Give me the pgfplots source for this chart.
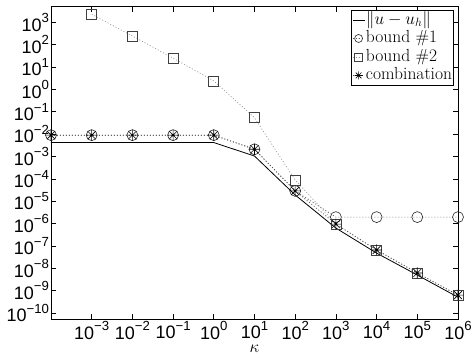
\documentclass[border=0pt]{standalone}
\usepackage{fontspec}
\usepackage{pgfplots}
\pgfplotsset{compat=1.18}
\newfontfamily\arial{Liberation Sans}
\newcommand{\logtick}{\pgfmathtruncatemacro{\e}{round(\tick)}\pgfmathtruncatemacro{\ea}{abs(\e)}10\raisebox{0.47em}{\fontsize{13.2}{13}\selectfont\ifnum\e<0 −\fi\ea}}
\pgfdeclareplotmark{ast8}{%
  \pgfpathmoveto{\pgfqpoint{-\pgfplotmarksize}{0pt}}\pgfpathlineto{\pgfqpoint{\pgfplotmarksize}{0pt}}%
  \pgfpathmoveto{\pgfqpoint{0pt}{-\pgfplotmarksize}}\pgfpathlineto{\pgfqpoint{0pt}{\pgfplotmarksize}}%
  \pgfpathmoveto{\pgfqpoint{-0.707\pgfplotmarksize}{-0.707\pgfplotmarksize}}\pgfpathlineto{\pgfqpoint{0.707\pgfplotmarksize}{0.707\pgfplotmarksize}}%
  \pgfpathmoveto{\pgfqpoint{-0.707\pgfplotmarksize}{0.707\pgfplotmarksize}}\pgfpathlineto{\pgfqpoint{0.707\pgfplotmarksize}{-0.707\pgfplotmarksize}}%
  \pgfusepathqstroke}
\definecolor{bonegray}{gray}{0.35}
\definecolor{btwogray}{gray}{0.6}
\begin{document}
\begin{tikzpicture}
\begin{axis}[
  scale only axis,
  width=407pt, height=312.6pt,
  xmode=log, ymode=log,
  log basis x=10, log basis y=10,
  xmin=1e-4, xmax=1e6,
  ymin=5.25e-11, ymax=5.0e3,
  xtick={1e-3,1e-2,1e-1,1e0,1e1,1e2,1e3,1e4,1e5,1e6},
  ytick={1e-10,1e-9,1e-8,1e-7,1e-6,1e-5,1e-4,1e-3,1e-2,1e-1,1e0,1e1,1e2,1e3},
  xticklabel={\logtick}, yticklabel={\logtick},
  xminorticks=false, yminorticks=false,
  tick align=inside, major tick length=5pt,
  tick style={black, line width=0.6pt},
  ticklabel style={font=\arial\fontsize{18}{19}\selectfont},
  xticklabel style={yshift=1.5pt},
  yticklabel style={xshift=1.5pt},
  axis line style={line width=0.9pt},
  xlabel={$\kappa$},
  xlabel style={font=\fontsize{16}{18}\selectfont, yshift=-2pt, inner sep=1pt, text height=7pt, text depth=0pt},
  legend style={at={(rel axis cs:0.99,0.99)}, anchor=north east, font=\fontsize{17.5}{19}\selectfont,
    inner sep=0.5pt, row sep=0pt, draw=black, line width=0.8pt,
    nodes={inner sep=1pt, text height=12.5pt, text depth=4pt}},
  legend cell align=left,
  legend image code/.code={\draw[mark repeat=2,mark phase=2,#1,mark size=4pt] plot coordinates {(0pt,0pt) (6pt,0pt) (12pt,0pt)};},
]
\addplot[black, line width=0.8pt, mark=none] coordinates {
 (1e-4,4.2e-3) (1e-3,4.2e-3) (1e-2,4.2e-3) (1e-1,4.2e-3) (1e0,4.2e-3)
 (1e1,1.05e-3) (1e2,1.9e-5) (1e3,6.3e-7) (1e4,4.8e-8) (1e5,5.0e-9) (1e6,5.1e-10)};
\addlegendentry{$\|u-u_h\|$}
\addplot[bonegray, line width=0.7pt, dash pattern=on 1pt off 2pt, mark=o, mark size=5.5pt,
  mark options={solid, black!85, line width=0.6pt}] coordinates {
 (1e-4,9e-3) (1e-3,9e-3) (1e-2,9e-3) (1e-1,9e-3) (1e0,9e-3)
 (1e1,2.1e-3) (1e2,2.9e-5) (1e3,1.95e-6) (1e4,1.95e-6) (1e5,1.95e-6) (1e6,1.95e-6)};
\addlegendentry{bound \#1}
\addplot[btwogray, line width=0.7pt, dash pattern=on 1pt off 2pt, mark=square, mark size=5pt,
  mark options={solid, black!75, line width=0.6pt}] coordinates {
 (1e-3,2300) (1e-2,245) (1e-1,25) (1e0,2.4)
 (1e1,0.054) (1e2,8.9e-5) (1e3,9.5e-7) (1e4,6.6e-8) (1e5,6.2e-9) (1e6,6.3e-10)};
\addlegendentry{bound \#2}
\addplot[black!70, line width=0.7pt, dash pattern=on 1pt off 2pt, mark=ast8, mark size=5.5pt,
  mark options={solid, black, line width=0.6pt}] coordinates {
 (1e-4,9e-3) (1e-3,9e-3) (1e-2,9e-3) (1e-1,9e-3) (1e0,9e-3)
 (1e1,2.1e-3) (1e2,2.9e-5) (1e3,9.5e-7) (1e4,6.6e-8) (1e5,6.2e-9) (1e6,6.3e-10)};
\addlegendentry{combination}
\coordinate (sw) at (rel axis cs:0,0);
\coordinate (ne) at (rel axis cs:1,1);
\end{axis}
\pgfresetboundingbox
\path[use as bounding box] ([xshift=-51pt,yshift=-38.7pt]sw) rectangle ([xshift=14pt,yshift=6.7pt]ne);
\end{tikzpicture}
\end{document}
